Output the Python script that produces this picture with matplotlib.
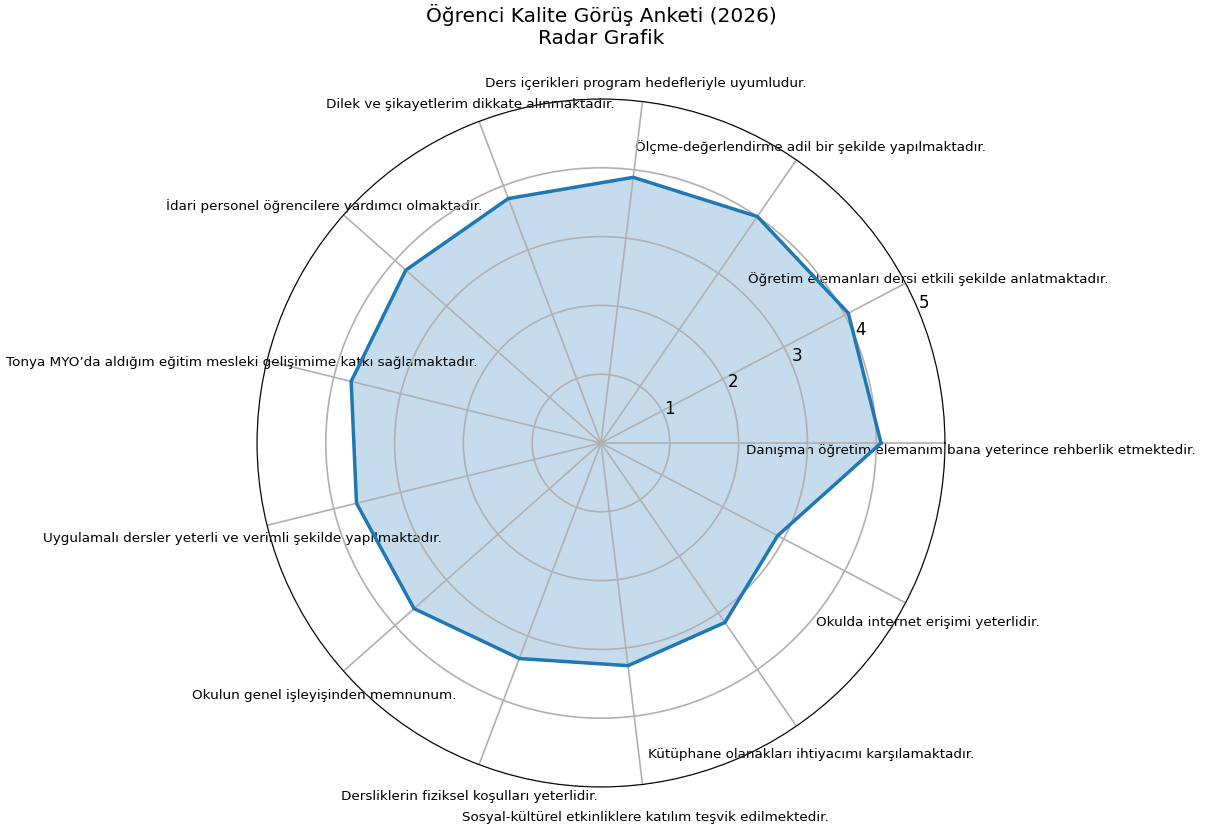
import numpy as np
import matplotlib.pyplot as plt

categories = [
    "Danışman öğretim elemanım bana yeterince rehberlik etmektedir.",
    "Öğretim elemanları dersi etkili şekilde anlatmaktadır.",
    "Ölçme-değerlendirme adil bir şekilde yapılmaktadır.",
    "Ders içerikleri program hedefleriyle uyumludur.",
    "Dilek ve şikayetlerim dikkate alınmaktadır.",
    "İdari personel öğrencilere yardımcı olmaktadır.",
    "Tonya MYO’da aldığım eğitim mesleki gelişimime katkı sağlamaktadır.",
    "Uygulamalı dersler yeterli ve verimli şekilde yapılmaktadır.",
    "Okulun genel işleyişinden memnunum.",
    "Dersliklerin fiziksel koşulları yeterlidir.",
    "Sosyal-kültürel etkinliklere katılım teşvik edilmektedir.",
    "Kütüphane olanakları ihtiyacımı karşılamaktadır.",
    "Okulda internet erişimi yeterlidir.",
]
scores = [4.07, 4.06, 4.00, 3.89, 3.80, 3.79, 3.74, 3.66, 3.63, 3.35, 3.26, 3.17, 2.90]
r_ticks = [1, 2, 3, 4, 5]

n = len(categories)
angles = np.linspace(0, 2 * np.pi, n, endpoint=False).tolist()
vals = scores + scores[:1]
ang = angles + angles[:1]

fig = plt.figure(figsize=(12.1, 8.28), dpi=100)
ax = fig.add_axes([257 / 1210, 40 / 828, 688 / 1210, 688 / 828], projection="polar")

ax.plot(ang, vals, color="tab:blue", linewidth=2.5)
ax.fill(ang, vals, color="tab:blue", alpha=0.25)

ax.set_xticks(angles)
ax.set_xticklabels(categories, fontsize=9.7, va="top")
ax.tick_params(axis="x", pad=8)
ax.set_ylim(0, 5)
ax.set_yticks(r_ticks)
ax.set_yticklabels([str(t) for t in r_ticks], fontsize=12)
ax.grid(True, color="#b0b0b0", linewidth=1.2)

fig.text(0.497, 1 - 4 / 828, "Öğrenci Kalite Görüş Anketi (2026)\nRadar Grafik",
         fontsize=14.5, ha="center", va="top")

fig.savefig("out.png", dpi=100)
